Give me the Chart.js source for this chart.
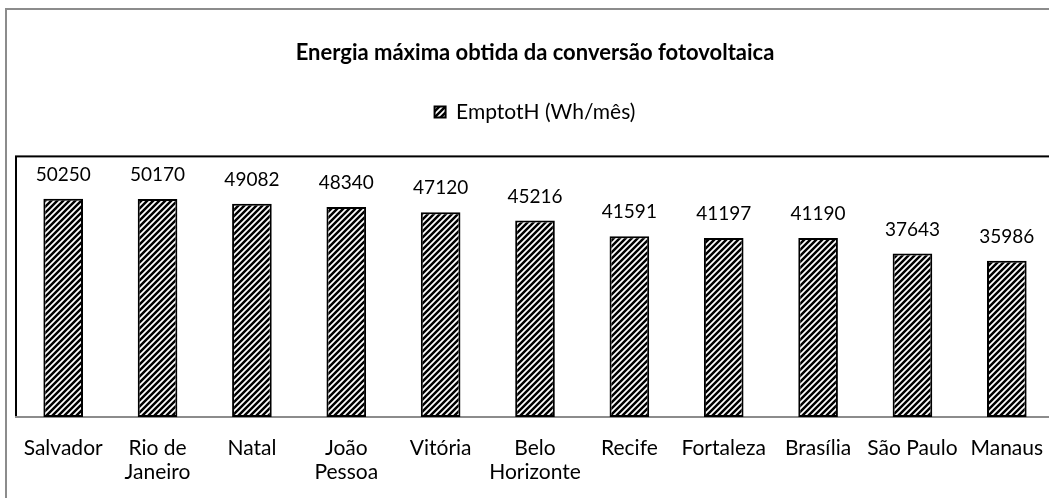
<!DOCTYPE html>
<html>
<head>
<meta charset="utf-8">
<script src="https://cdn.jsdelivr.net/npm/chart.js@4.4.0/dist/chart.umd.min.js"></script>
<style>
html, body { margin: 0; padding: 0; background: #fff; overflow: hidden; }
#frame { position: absolute; left: 5px; top: 8px; width: 1080px; height: 520px; border: 2px solid #8c8c8c; }
#wrap { position: absolute; left: 0; top: 0; width: 1070px; height: 498px; }
</style>
</head>
<body>
<div id="frame"></div>
<div id="wrap"><canvas id="energyChart" width="1070" height="498"></canvas></div>
<script>
var cities = ["Salvador", ["Rio de", "Janeiro"], "Natal", ["João", "Pessoa"], "Vitória", ["Belo", "Horizonte"], "Recife", "Fortaleza", "Brasília", "São Paulo", "Manaus"];
var energyWh = [50250, 50170, 49082, 48340, 47120, 45216, 41591, 41197, 41190, 37643, 35986];
var seriesName = "EmptotH (Wh/mês)";
var chartTitle = "Energia máxima obtida da conversão fotovoltaica";

var fontStack = "Lato, 'Open Sans', sans-serif";
Chart.defaults.font.family = fontStack;
Chart.defaults.color = "#000";

// diagonal "/" hatch used for the bars and the legend swatch
function makeHatch() {
    var c = document.createElement("canvas");
    c.width = 6; c.height = 6;
    var g = c.getContext("2d");
    g.fillStyle = "#fff";
    g.fillRect(0, 0, 6, 6);
    g.strokeStyle = "#000";
    g.lineWidth = 2.5;
    g.beginPath();
    g.moveTo(-1, 7); g.lineTo(7, -1);
    g.moveTo(-4, 4); g.lineTo(4, -4);
    g.moveTo(2, 10); g.lineTo(10, 2);
    g.stroke();
    return g.createPattern(c, "repeat");
}
var hatch = makeHatch();

// black frame around the plot area
var plotFrame = {
    id: "plotFrame",
    beforeDraw: function(chart) {
        var a = chart.chartArea, ctx = chart.ctx;
        ctx.save();
        ctx.strokeStyle = "#000";
        ctx.lineWidth = 2;
        ctx.strokeRect(a.left, a.top, a.right - a.left, a.bottom - a.top);
        ctx.restore();
    }
};

// value printed above each bar
var valueLabels = {
    id: "valueLabels",
    afterDatasetsDraw: function(chart) {
        var ctx = chart.ctx;
        var meta = chart.getDatasetMeta(0);
        ctx.save();
        ctx.font = "19px " + fontStack;
        ctx.fillStyle = "#000";
        ctx.textAlign = "center";
        ctx.textBaseline = "middle";
        meta.data.forEach(function(bar, i) {
            ctx.fillText(String(energyWh[i]), bar.x, bar.y - 24);
        });
        ctx.restore();
    }
};

// extra room between legend and plot
var legendGap = {
    id: "legendGap",
    beforeInit: function(chart) {
        var fit = chart.legend.fit;
        chart.legend.fit = function() {
            fit.bind(chart.legend)();
            this.height += 24;
        };
    }
};

var ctx = document.getElementById("energyChart").getContext("2d");
var energyChart = new Chart(ctx, {
    type: "bar",
    data: {
        labels: cities,
        datasets: [{
            label: seriesName,
            data: energyWh,
            backgroundColor: hatch,
            borderColor: "#000",
            borderWidth: 2,
            borderSkipped: false,
            categoryPercentage: 1,
            barPercentage: 0.42
        }]
    },
    options: {
        responsive: false,
        animation: false,
        layout: { padding: { left: 16, right: 16, top: 0, bottom: 0 } },
        plugins: {
            title: {
                display: true,
                text: chartTitle,
                font: { size: 22, weight: "bold" },
                padding: { top: 40, bottom: 25 }
            },
            legend: {
                display: true,
                position: "top",
                labels: { boxWidth: 11, boxHeight: 11, font: { size: 21 }, padding: 10 }
            },
            tooltip: { enabled: false }
        },
        scales: {
            x: {
                grid: { display: false, drawTicks: false },
                border: { display: true, color: "#8c8c8c", width: 2 },
                ticks: { font: { size: 21, lineHeight: 1.15 }, padding: 19, maxRotation: 0, autoSkip: false },
                afterFit: function(scale) { scale.height = 81; }
            },
            y: {
                display: false,
                min: 0,
                max: 60000
            }
        }
    },
    plugins: [plotFrame, valueLabels, legendGap]
});
</script>
</body>
</html>
